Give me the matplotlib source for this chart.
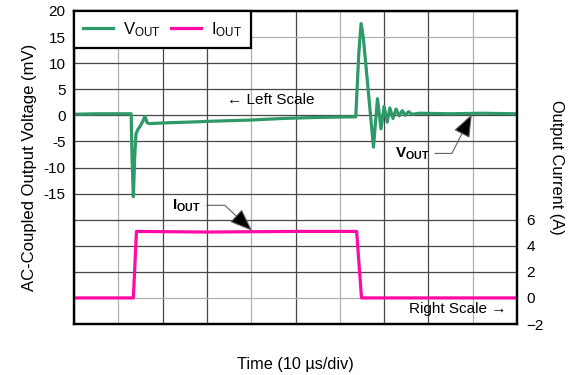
import matplotlib
matplotlib.use("Agg")
import matplotlib.pyplot as plt
import numpy as np

plt.rcParams['font.family'] = ['Liberation Sans', 'DejaVu Sans']
plt.rcParams['mathtext.default'] = 'regular'

# time axis in microseconds (10 us/div)
vout_t = [0, 5, 10, 12.9, 13.1, 13.4, 13.7, 14.0, 14.5, 15.0, 15.5, 16.0, 16.5, 17.0,
          19, 22, 26, 32, 40, 47, 55, 62, 63.6, 64.3, 64.8, 65.3, 67.6, 68.5, 69.3,
          70.0, 70.7, 71.3, 72.0, 72.7, 73.4, 74.1, 74.8, 75.5, 76.3, 78, 85, 92, 100]
vout_mv = [0.2, 0.3, 0.3, 0.3, -8, -15.6, -8, -3.5, -2.6, -2.0, -1.2, -0.2, -1.4, -1.6,
           -1.5, -1.4, -1.3, -1.1, -0.9, -0.6, -0.4, -0.3, -0.3, 12, 17.6, 15, -6.1, 3.2, -2.6,
           1.7, -1.3, 1.4, -0.6, 1.2, -0.1, 0.9, 0.0, 0.7, 0.2, 0.4, 0.3, 0.4, 0.3]

iout_t = [0, 13.4, 14.1, 30, 50, 63.8, 64.9, 80, 100]
iout_a = [0, 0, 5.1, 5.05, 5.1, 5.1, 0, 0, 0]

left_ticks = list(range(-40, 25, 5))
left_labels = [str(v) if v >= -15 else '' for v in left_ticks]
right_ticks = [-2, 0, 2, 4, 6]

green = '#2e9a68'
pink = '#ff0aa5'

fig = plt.figure(figsize=(5.73, 3.75), dpi=100)
ax = fig.add_axes([74/573, 1 - 324/375, 443/573, 313/375])
ax2 = ax.twinx()

l1, = ax.plot(vout_t, vout_mv, color=green, lw=2.3, label='V$_{OUT}$')
l2, = ax2.plot(iout_t, iout_a, color=pink, lw=2.3, label='I$_{OUT}$')

ax.set_xlim(0, 100)
ax.set_ylim(-40, 20)
ax2.set_ylim(-2, 22)
ax.set_xticks(np.arange(0, 101, 10))
ax.set_xticklabels([])
ax.set_yticks(left_ticks)
ax.set_yticklabels(left_labels)
ax2.set_yticks(right_ticks)

ax.grid(True, color='#474747', lw=0.9)
ax.set_axisbelow(True)
for i in [1, 4, 6, 9]:
    ax.get_xgridlines()[i].set_color('#b0b0b0')
for i in [1, 11]:
    ax.get_ygridlines()[len(left_ticks) - 1 - i].set_color('#b0b0b0')

for a in (ax, ax2):
    a.tick_params(length=0, labelsize=11)
    for s in a.spines.values():
        s.set_linewidth(1.6)
        s.set_color('black')
ax.tick_params(axis='y', pad=6)
ax2.tick_params(axis='y', pad=7)

ax.set_xlabel('Time (10 µs/div)', fontsize=11.7, labelpad=20)
ax.set_ylabel('AC-Coupled Output Voltage (mV)', fontsize=12, labelpad=5)
ax2.set_ylabel('Output Current (A)', fontsize=11.8, rotation=270, labelpad=14)

leg = ax2.legend(handles=[l1, l2], loc='upper left', bbox_to_anchor=(0, 1),
                 borderaxespad=0, ncol=2, fontsize=12, fancybox=False,
                 framealpha=1, edgecolor='black', handlelength=1.8,
                 handletextpad=0.6, columnspacing=0.6, borderpad=0.55)
leg.get_frame().set_linewidth(1.6)

ax.text(34.5, 2.9, '← Left Scale', fontsize=11, va='center', ha='left')
ax2.text(97.7, -0.85, 'Right Scale →', fontsize=11, va='center', ha='right')

head = '-|>,head_length=1.3,head_width=0.5'
ax.annotate('V$_{OUT}$', xy=(89.8, 0.2), xytext=(76.3, -7.3), fontsize=11,
            fontweight='bold', ha='center', va='center',
            arrowprops=dict(arrowstyle=head, shrinkB=0,
                            connectionstyle='angle,angleA=0,angleB=63,rad=0',
                            ec='#606060', fc='black', lw=0.8))
ax2.annotate('I$_{OUT}$', xy=(40.2, 5.15), xytext=(25.4, 7.1), fontsize=11,
             fontweight='bold', ha='center', va='center',
             arrowprops=dict(arrowstyle=head, shrinkB=0,
                             connectionstyle='angle,angleA=0,angleB=-43,rad=0',
                             ec='#606060', fc='black', lw=0.8))

fig.savefig('out.png', dpi=100)
